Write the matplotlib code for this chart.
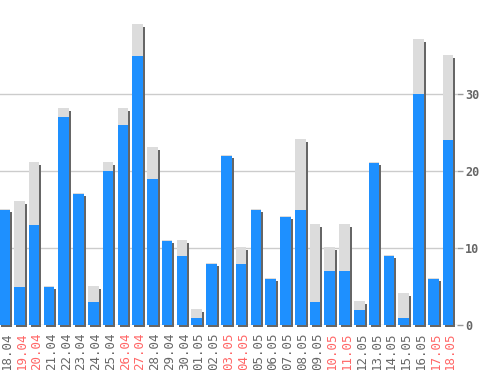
import matplotlib
matplotlib.use("Agg")
import matplotlib.pyplot as plt
import matplotlib.transforms as mtransforms
import numpy as np

dates = ["18.04", "19.04", "20.04", "21.04", "22.04", "23.04", "24.04", "25.04",
         "26.04", "27.04", "28.04", "29.04", "30.04", "01.05", "02.05", "03.05",
         "04.05", "05.05", "06.05", "07.05", "08.05", "09.05", "10.05", "11.05",
         "12.05", "13.05", "14.05", "15.05", "16.05", "17.05", "18.05"]
weekend = ["19.04", "20.04", "26.04", "27.04", "03.05", "04.05", "10.05", "11.05",
           "17.05", "18.05"]
blue_vals = [15, 5, 13, 5, 27, 17, 3, 20, 26, 35, 19, 11, 9, 1, 8, 22, 8, 15, 6, 14,
             15, 3, 7, 7, 2, 21, 9, 1, 30, 6, 24]
total_vals = [15, 16, 21, 5, 28, 17, 5, 21, 28, 39, 23, 11, 11, 2, 8, 22, 10, 15, 6, 14,
              24, 13, 10, 13, 3, 21, 9, 4, 37, 6, 35]
yticks = [0, 10, 20, 30]

DPI = 100
fig = plt.figure(figsize=(4.98, 3.70), dpi=DPI)
ax = fig.add_axes([0, 0.1208, 457 / 498, 1 - 0.1208])

x = np.arange(len(dates))
w = 0.72

shadow_tr = mtransforms.offset_copy(ax.transData, fig=fig, x=2, y=-2, units='dots')
gray_tr = mtransforms.offset_copy(ax.transData, fig=fig, x=0, y=1, units='dots')

ax.bar(x, total_vals, width=w, color="#666666", transform=shadow_tr, zorder=2,
       clip_on=False, linewidth=0)
ax.bar(x, total_vals, width=w, color="#dcdcdc", transform=gray_tr, zorder=3,
       linewidth=0)
ax.bar(x, blue_vals, width=w, color="#1e90ff", zorder=4, linewidth=0)

ax.set_xlim(-0.31, 30.61)
ax.set_ylim(0, 42.2)

for s in ax.spines.values():
    s.set_visible(False)

ax.yaxis.tick_right()
ax.set_yticks(yticks)
ax.set_yticklabels([str(v) for v in yticks], fontfamily="DejaVu Sans Mono",
                   fontsize=8.5, fontweight="bold", color="#666666")
ax.tick_params(axis='y', length=4, width=1, color="#999999", pad=2)
ax.grid(axis='y', color="#cccccc", linewidth=1, zorder=0)
ax.set_axisbelow(True)

ax.set_xticks(x)
ax.set_xticklabels(dates, rotation=90, fontfamily="DejaVu Sans Mono", fontsize=9)
ax.tick_params(axis='x', length=0, pad=5)
offset = mtransforms.ScaledTranslation(2.5 / DPI, 0, fig.dpi_scale_trans)
for lab in ax.get_xticklabels():
    lab.set_color("#ff6666" if lab.get_text() in weekend else "#666666")
    lab.set_transform(lab.get_transform() + offset)

fig.savefig("out.png", dpi=DPI)
